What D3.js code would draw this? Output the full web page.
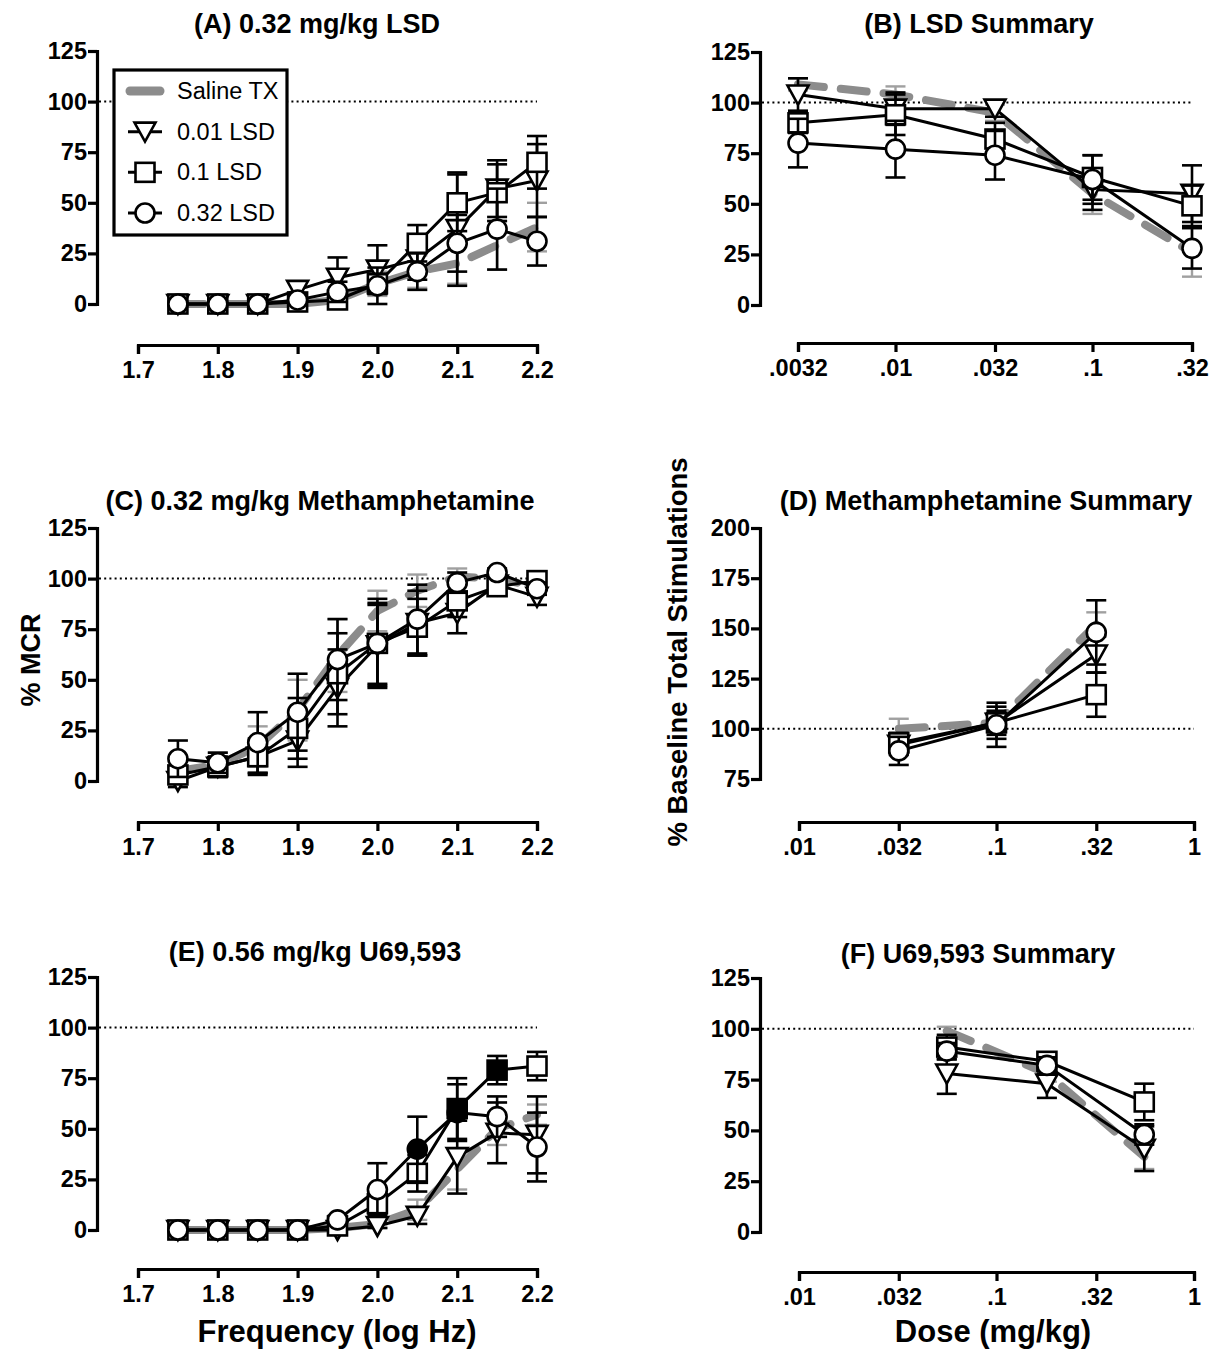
<!DOCTYPE html>
<html>
<head>
<meta charset="utf-8">
<script src="https://cdn.jsdelivr.net/npm/d3@7"></script>
<style>
  html, body { margin: 0; padding: 0; background: #fff; }
  svg { display: block; font-family: "Liberation Sans", Arial, Helvetica, sans-serif; }
</style>
</head>
<body>
<svg id="fig" width="1228" height="1355"></svg>
<script>
// ---------- data ----------
const freq = [1.75, 1.8, 1.85, 1.9, 1.95, 2.0, 2.05, 2.1, 2.15, 2.2];
const freqTicks = [1.7, 1.8, 1.9, 2.0, 2.1, 2.2];
const freqTickLabels = ["1.7", "1.8", "1.9", "2.0", "2.1", "2.2"];
const pctTicks = [0, 25, 50, 75, 100, 125];
const stimTicks = [75, 100, 125, 150, 175, 200];

const seriesNames = ["Saline TX", "0.01 LSD", "0.1 LSD", "0.32 LSD"];

// (A) 0.32 mg/kg LSD
const salineA = [0, 0, 0, 0, 2, 10, 16, 20, 29, 38];
const salineAErr = [0, 0, 0, 1, 3, 6, 8, 10, 12, 12];
const lsd001A = [0, 0, 0, 7, 13, 17, 22, 37, 57, 61];
const lsd001AErr = [0, 0, 0, 4, 10, 12, 10, 28, 14, 18];
const lsd01A = [0, 0, 0, 1, 2, 10, 30, 50, 55, 70];
const lsd01AErr = [0, 0, 0, 2, 3, 5, 9, 14, 14, 13];
const lsd032A = [0, 0, 0, 2, 6, 9, 16, 30, 37, 31];
const lsd032AErr = [0, 0, 0, 2, 5, 9, 9, 14, 20, 12];

// (B) LSD summary
const dosesB = [0.0032, 0.01, 0.032, 0.1, 0.32];
const dosesBLabels = [".0032", ".01", ".032", ".1", ".32"];
const salineB = [109, 104, 95, 55, 26];
const salineBErr = [3, 4, 4, 10, 12];
const lsd001B = [104, 97, 97, 57, 55];
const lsd001BErr = [8, 8, 4, 10, 14];
const lsd01B = [90, 94, 82, 63, 49];
const lsd01BErr = [5, 10, 8, 11, 10];
const lsd032B = [80, 77, 74, 62, 28];
const lsd032BErr = [12, 14, 12, 12, 10];

// (C) 0.32 mg/kg methamphetamine
const salineC = [5, 8, 17, 35, 62, 84, 94, 101, 100, 96];
const salineCErr = [5, 6, 10, 15, 18, 10, 8, 4, 3, 3];
const lsd001C = [0, 7, 12, 20, 46, 67, 78, 83, 97, 91];
const lsd001CErr = [3, 5, 8, 13, 19, 20, 16, 10, 4, 4];
const lsd01C = [3, 7, 12, 26, 53, 68, 76, 89, 96, 99];
const lsd01CErr = [4, 5, 9, 15, 20, 20, 14, 8, 4, 3];
const lsd032C = [11, 9, 19, 34, 60, 68, 80, 98, 103, 95];
const lsd032CErr = [9, 5, 15, 19, 20, 22, 17, 5, 2, 3];

// (D) methamphetamine summary
const dosesSummary = [0.01, 0.032, 0.1, 0.32, 1];
const dosesSummaryLabels = [".01", ".032", ".1", ".32", "1"];
const dosesD = [0.032, 0.1, 0.32];
const salineD = [100, 103, 152];
const salineDErr = [5, 5, 6];
const lsd001D = [92, 103, 137];
const lsd001DErr = [5, 8, 9];
const lsd01D = [93, 103, 117];
const lsd01DErr = [5, 6, 11];
const lsd032D = [89, 102, 148];
const lsd032DErr = [7, 11, 16];

// (E) 0.56 mg/kg U69,593
const salineE = [0, 0, 0, 0, 1, 3, 10, 30, 50, 57];
const salineEErr = [0, 0, 0, 0, 1, 2, 5, 10, 8, 5];
const lsd001E = [0, 0, 0, 0, 0, 2, 7, 36, 48, 47];
const lsd001EErr = [0, 0, 0, 0, 1, 1, 4, 18, 15, 19];
const lsd01E = [0, 0, 0, 0, 2, 13, 28, 60, 79, 81];
const lsd01EErr = [0, 0, 0, 0, 2, 5, 9, 15, 7, 7];
const lsd01EFilled = [false, false, false, false, false, false, false, true, true, false];
const lsd032E = [0, 0, 0, 0, 5, 20, 40, 58, 56, 41];
const lsd032EErr = [0, 0, 0, 0, 2, 13, 16, 14, 10, 17];
const lsd032EFilled = [false, false, false, false, false, false, true, true, false, false];

// (F) U69,593 summary
const dosesF = [0.056, 0.18, 0.56];
const salineF = [99, 78, 37];
const salineFErr = [2, 4, 6];
const lsd001F = [78, 73, 41];
const lsd001FErr = [10, 7, 11];
const lsd01F = [91, 84, 64];
const lsd01FErr = [6, 4, 9];
const lsd032F = [89, 82, 48];
const lsd032FErr = [4, 4, 5];

// ---------- drawing helpers ----------
const svg = d3.select("#fig");
const GRAY = "#8c8c8c";
const GRAY_ERR = "#a0a0a0";

function drawMarker(g, shape, x, y, filled) {
  const fill = filled ? "#000" : "#fff";
  if (shape === "circle") {
    g.append("circle").attr("cx", x).attr("cy", y).attr("r", 9.5)
      .attr("fill", fill).attr("stroke", "#000").attr("stroke-width", 2.6);
  } else if (shape === "square") {
    g.append("rect").attr("x", x - 9.5).attr("y", y - 9.5).attr("width", 19).attr("height", 19)
      .attr("fill", fill).attr("stroke", "#000").attr("stroke-width", 2.6);
  } else if (shape === "triangle") {
    g.append("path").attr("d", `M${x - 10.5},${y - 9}L${x + 10.5},${y - 9}L${x},${y + 10}Z`)
      .attr("fill", fill).attr("stroke", "#000").attr("stroke-width", 2.6)
      .attr("stroke-linejoin", "miter");
  }
}

function panel(p) {
  const g = svg.append("g");
  const x = p.log
    ? d3.scaleLog().domain(p.xDomain).range(p.xRange)
    : d3.scaleLinear().domain(p.xDomain).range(p.xRange);
  const y = d3.scaleLinear().domain(p.yDomain).range(p.yRange);

  // axes (Prism-style detached brackets)
  const yAxis = d3.axisLeft(y).tickValues(p.yTicks).tickSize(9).tickSizeOuter(9).tickPadding(1)
    .tickFormat(d3.format("d"));
  const ya = g.append("g").attr("transform", `translate(${p.yAxisX},0)`).call(yAxis);
  const xAxis = d3.axisBottom(x).tickValues(p.xTicks).tickSize(9).tickSizeOuter(9).tickPadding(7)
    .tickFormat((d, i) => p.xTickLabels[i]);
  const xa = g.append("g").attr("transform", `translate(0,${p.xAxisY})`).call(xAxis);
  [ya, xa].forEach(a => {
    a.select(".domain").attr("stroke", "#000").attr("stroke-width", 3.2).attr("fill", "none");
    a.selectAll(".tick line").attr("stroke", "#000").attr("stroke-width", 3.2);
    a.selectAll(".tick text").attr("fill", "#000").style("font-size", "23.5px").style("font-weight", "bold");
  });

  // 100% reference line
  g.append("line").attr("x1", p.yAxisX + 2).attr("x2", p.xRange[1])
    .attr("y1", y(100)).attr("y2", y(100))
    .attr("stroke", "#000").attr("stroke-width", 2).attr("stroke-dasharray", "2,3.2");

  // title
  g.append("text").attr("x", p.titleX).attr("y", p.titleY).attr("text-anchor", "middle")
    .style("font-size", "27px").style("font-weight", "bold").text(p.title);

  const xs = p.xs;
  // saline: thick grey dashed line with grey error bars
  const sal = p.series[0];
  const errG = g.append("g");
  xs.forEach((xv, i) => {
    const e = sal.err[i];
    if (e > 0) {
      const cx = x(xv);
      errG.append("line").attr("x1", cx).attr("x2", cx).attr("y1", y(sal.v[i] - e)).attr("y2", y(sal.v[i] + e))
        .attr("stroke", GRAY_ERR).attr("stroke-width", 2.4);
      [sal.v[i] - e, sal.v[i] + e].forEach(v =>
        errG.append("line").attr("x1", cx - 10).attr("x2", cx + 10).attr("y1", y(v)).attr("y2", y(v))
          .attr("stroke", GRAY_ERR).attr("stroke-width", 2.4));
    }
  });
  const line = d3.line().x((d, i) => x(xs[i])).y(d => y(d));
  g.append("path").attr("d", line(sal.v)).attr("fill", "none").attr("stroke", GRAY)
    .attr("stroke-width", 8).attr("stroke-linecap", "round").attr("stroke-dasharray", "26,17");

  // drug series: black error bars, line, open markers
  p.series.slice(1).forEach(s => {
    const sg = g.append("g");
    xs.forEach((xv, i) => {
      const e = s.err[i];
      if (e > 0) {
        const cx = x(xv);
        sg.append("line").attr("x1", cx).attr("x2", cx).attr("y1", y(s.v[i] - e)).attr("y2", y(s.v[i] + e))
          .attr("stroke", "#000").attr("stroke-width", 2.6);
        [s.v[i] - e, s.v[i] + e].forEach(v =>
          sg.append("line").attr("x1", cx - 10).attr("x2", cx + 10).attr("y1", y(v)).attr("y2", y(v))
            .attr("stroke", "#000").attr("stroke-width", 2.6));
      }
    });
    sg.append("path").attr("d", line(s.v)).attr("fill", "none").attr("stroke", "#000").attr("stroke-width", 3);
    xs.forEach((xv, i) => drawMarker(sg, s.shape, x(xv), y(s.v[i]), s.filled ? s.filled[i] : false));
  });
}

const lin = { log: false, xDomain: [1.7, 2.2], xRange: [138, 537], xTicks: freqTicks, xTickLabels: freqTickLabels, yAxisX: 97, xs: freq };

panel(Object.assign({}, lin, {
  yDomain: [0, 125], yRange: [304, 51], yTicks: pctTicks, xAxisY: 345,
  title: "(A) 0.32 mg/kg LSD", titleX: 317, titleY: 33,
  series: [
    { v: salineA, err: salineAErr },
    { v: lsd001A, err: lsd001AErr, shape: "triangle" },
    { v: lsd01A, err: lsd01AErr, shape: "square" },
    { v: lsd032A, err: lsd032AErr, shape: "circle" }
  ]
}));

panel({
  log: true, xDomain: [0.0032, 0.32], xRange: [798, 1192], xTicks: dosesB, xTickLabels: dosesBLabels,
  yAxisX: 760, xs: dosesB,
  yDomain: [0, 125], yRange: [305, 52], yTicks: pctTicks, xAxisY: 343,
  title: "(B) LSD Summary", titleX: 979, titleY: 33,
  series: [
    { v: salineB, err: salineBErr },
    { v: lsd001B, err: lsd001BErr, shape: "triangle" },
    { v: lsd01B, err: lsd01BErr, shape: "square" },
    { v: lsd032B, err: lsd032BErr, shape: "circle" }
  ]
});

panel(Object.assign({}, lin, {
  yDomain: [0, 125], yRange: [781, 528], yTicks: pctTicks, xAxisY: 822,
  title: "(C) 0.32 mg/kg Methamphetamine", titleX: 320, titleY: 510,
  series: [
    { v: salineC, err: salineCErr },
    { v: lsd001C, err: lsd001CErr, shape: "triangle" },
    { v: lsd01C, err: lsd01CErr, shape: "square" },
    { v: lsd032C, err: lsd032CErr, shape: "circle" }
  ]
}));

panel({
  log: true, xDomain: [0.01, 1], xRange: [799, 1194], xTicks: dosesSummary, xTickLabels: dosesSummaryLabels,
  yAxisX: 760, xs: dosesD,
  yDomain: [75, 200], yRange: [779, 528], yTicks: stimTicks, xAxisY: 822,
  title: "(D) Methamphetamine Summary", titleX: 986, titleY: 510,
  series: [
    { v: salineD, err: salineDErr },
    { v: lsd001D, err: lsd001DErr, shape: "triangle" },
    { v: lsd01D, err: lsd01DErr, shape: "square" },
    { v: lsd032D, err: lsd032DErr, shape: "circle" }
  ]
});

panel(Object.assign({}, lin, {
  yDomain: [0, 125], yRange: [1230, 977], yTicks: pctTicks, xAxisY: 1269,
  title: "(E) 0.56 mg/kg U69,593", titleX: 315, titleY: 961,
  series: [
    { v: salineE, err: salineEErr },
    { v: lsd001E, err: lsd001EErr, shape: "triangle" },
    { v: lsd01E, err: lsd01EErr, shape: "square", filled: lsd01EFilled },
    { v: lsd032E, err: lsd032EErr, shape: "circle", filled: lsd032EFilled }
  ]
}));

panel({
  log: true, xDomain: [0.01, 1], xRange: [799, 1194], xTicks: dosesSummary, xTickLabels: dosesSummaryLabels,
  yAxisX: 760, xs: dosesF,
  yDomain: [0, 125], yRange: [1232, 978], yTicks: pctTicks, xAxisY: 1272,
  title: "(F) U69,593 Summary", titleX: 978, titleY: 963,
  series: [
    { v: salineF, err: salineFErr },
    { v: lsd001F, err: lsd001FErr, shape: "triangle" },
    { v: lsd01F, err: lsd01FErr, shape: "square" },
    { v: lsd032F, err: lsd032FErr, shape: "circle" }
  ]
});

// axis titles
svg.append("text").attr("transform", "translate(40,660) rotate(-90)").attr("text-anchor", "middle")
  .style("font-size", "27px").style("font-weight", "bold").text("% MCR");
svg.append("text").attr("transform", "translate(687,652) rotate(-90)").attr("text-anchor", "middle")
  .style("font-size", "27.5px").style("font-weight", "bold").text("% Baseline Total Stimulations");
svg.append("text").attr("x", 337).attr("y", 1342).attr("text-anchor", "middle")
  .style("font-size", "31px").style("font-weight", "bold").text("Frequency (log Hz)");
svg.append("text").attr("x", 993).attr("y", 1342).attr("text-anchor", "middle")
  .style("font-size", "31px").style("font-weight", "bold").text("Dose (mg/kg)");

// legend (panel A)
const lg = svg.append("g");
lg.append("rect").attr("x", 114).attr("y", 70).attr("width", 173).attr("height", 165)
  .attr("fill", "#fff").attr("stroke", "#000").attr("stroke-width", 3.2);
const legendShapes = [null, "triangle", "square", "circle"];
const legendY = d3.scalePoint().domain(seriesNames).range([91, 213]);
seriesNames.forEach((name, i) => {
  const ly = legendY(name);
  if (i === 0) {
    lg.append("line").attr("x1", 130).attr("x2", 160).attr("y1", ly).attr("y2", ly)
      .attr("stroke", GRAY).attr("stroke-width", 9).attr("stroke-linecap", "round");
  } else {
    lg.append("line").attr("x1", 128).attr("x2", 162).attr("y1", ly).attr("y2", ly)
      .attr("stroke", "#000").attr("stroke-width", 3);
    drawMarker(lg, legendShapes[i], 145, ly, false);
  }
  lg.append("text").attr("x", 177).attr("y", ly + 8).style("font-size", "23.5px").text(name);
});
</script>
</body>
</html>
